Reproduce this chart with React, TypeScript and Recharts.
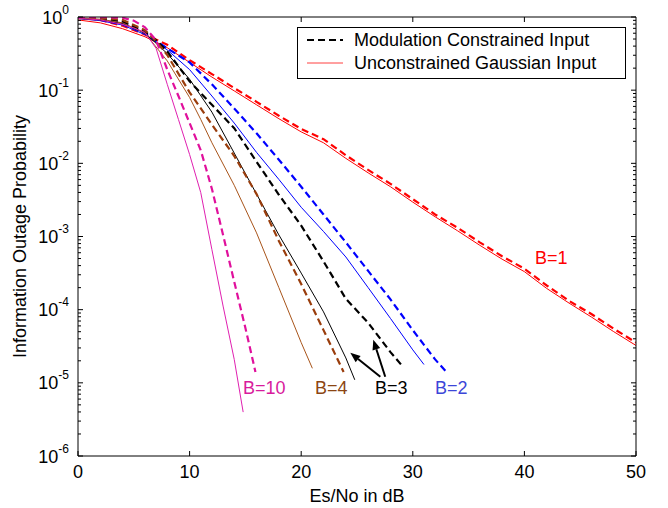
import React from 'react';
import { LineChart, Line, XAxis, YAxis, Legend, ReferenceLine, ReferenceDot } from 'recharts';

// ---- data (Es/No in dB, outage probability) ----
const snrB1 = [0, 2, 4, 6, 8, 10, 12, 14, 16, 18, 20, 22, 24, 26, 28, 30, 32, 34, 36, 38, 40, 42, 44, 46, 48, 50];
const b1Mod = [0.977, 0.912, 0.759, 0.575, 0.417, 0.257, 0.166, 0.107, 0.0692, 0.0447, 0.0295, 0.0214, 0.0129, 8.13e-3, 5.25e-3, 3.24e-3, 2.0e-3, 1.32e-3, 8.32e-4, 5.37e-4, 3.63e-4, 2.14e-4, 1.32e-4, 8.71e-5, 5.5e-5, 3.55e-5];
const b1Gauss = [0.912, 0.832, 0.692, 0.537, 0.38, 0.24, 0.151, 0.0977, 0.0631, 0.0407, 0.0269, 0.0191, 0.0117, 7.41e-3, 4.79e-3, 2.95e-3, 1.86e-3, 1.2e-3, 7.59e-4, 4.9e-4, 3.31e-4, 1.95e-4, 1.23e-4, 7.94e-5, 5.01e-5, 3.24e-5];

const snrB2Mod = [0, 2, 4, 6, 7, 8, 10, 12, 14, 16, 18, 20, 22, 24, 26, 28, 30, 32, 33];
const b2Mod = [0.977, 0.933, 0.832, 0.603, 0.468, 0.372, 0.24, 0.12, 0.0562, 0.0257, 0.0112, 4.79e-3, 2.0e-3, 8.32e-4, 3.39e-4, 1.38e-4, 5.25e-5, 2.09e-5, 1.41e-5];
const snrB2Gauss = [0, 2, 4, 6, 8, 10, 12, 14, 16, 18, 20, 22, 24, 26, 28, 30, 31];
const b2Gauss = [0.955, 0.891, 0.776, 0.575, 0.355, 0.191, 0.0832, 0.0355, 0.0141, 6.03e-3, 2.51e-3, 1.17e-3, 5.25e-4, 2.0e-4, 7.59e-5, 2.82e-5, 1.78e-5];

const snrB3Mod = [0, 2, 4, 6, 7, 8, 10, 12, 14, 16, 18, 20, 22, 24, 26, 28, 29];
const b3Mod = [0.977, 0.955, 0.871, 0.631, 0.479, 0.339, 0.132, 0.0631, 0.0302, 0.0105, 3.72e-3, 1.41e-3, 4.57e-4, 1.41e-4, 6.61e-5, 2.63e-5, 1.74e-5];
const snrB3Gauss = [0, 2, 4, 6, 8, 10, 12, 14, 16, 18, 20, 22, 24, 24.8];
const b3Gauss = [0.955, 0.912, 0.813, 0.603, 0.316, 0.141, 0.0501, 0.0138, 3.8e-3, 1.05e-3, 3.16e-4, 9.33e-5, 2.19e-5, 1.1e-5];

const snrB4Mod = [0, 2, 4, 6, 7, 8, 10, 12, 14, 16, 18, 20, 22, 23.8];
const b4Mod = [0.995, 0.977, 0.912, 0.661, 0.468, 0.302, 0.0933, 0.0339, 0.0126, 3.8e-3, 8.71e-4, 2.24e-4, 5.25e-5, 1.41e-5];
const snrB4Gauss = [0, 2, 4, 6, 8, 10, 11, 12, 14, 16, 18, 20, 21];
const b4Gauss = [0.977, 0.933, 0.832, 0.603, 0.251, 0.0794, 0.0398, 0.0191, 5.01e-3, 1.12e-3, 2.0e-4, 3.55e-5, 1.58e-5];

const snrB10Mod = [0, 2, 4, 5, 6, 7, 8, 9, 10, 11, 12, 13, 14, 15, 15.9];
const b10Mod = [0.998, 0.998, 0.977, 0.891, 0.724, 0.479, 0.191, 0.0832, 0.0355, 0.0151, 4.47e-3, 1.05e-3, 2.4e-4, 5.62e-5, 1.41e-5];
const snrB10Gauss = [0, 2, 4, 5, 6, 7, 8, 9, 10, 11, 12, 13, 14, 14.8];
const b10Gauss = [0.955, 0.912, 0.794, 0.708, 0.617, 0.372, 0.12, 0.0398, 0.0132, 3.98e-3, 6.61e-4, 1.12e-4, 2.09e-5, 3.98e-6];

// ---- axis ticks ----
const xTicks = [0, 10, 20, 30, 40, 50];
const xTopTicks = [10, 20, 30, 40];
const yMajorTicks = [1e-6, 1e-5, 1e-4, 1e-3, 1e-2, 1e-1, 1];
const yMinorFactors = [2, 3, 4, 5, 6, 7, 8, 9];

// ---- annotations ----
const curveLabels = [
  { text: 'B=10', x: 16.7, y: 8.7e-6, color: '#d81b9c' },
  { text: 'B=4', x: 22.7, y: 8.7e-6, color: '#8b4513' },
  { text: 'B=3', x: 28.07, y: 8.7e-6, color: '#000000' },
  { text: 'B=2', x: 33.45, y: 8.7e-6, color: '#3c46d8' },
  { text: 'B=1', x: 42.4, y: 5.2e-4, color: '#ff0000' },
];
const arrows = [
  { from: { x: 27.09, y: 1.21e-5 }, to: { x: 24.4, y: 2.57e-5 } },
  { from: { x: 27.53, y: 1.21e-5 }, to: { x: 26.46, y: 3.88e-5 } },
];

const legendItems = [
  { label: 'Modulation Constrained Input', color: '#000000', dash: '7 4', width: 2 },
  { label: 'Unconstrained Gaussian Input', color: '#ff4040', dash: undefined, width: 1 },
];

const FONT = 'Liberation Sans, Arial, Helvetica, sans-serif';

const zip = (xs: number[], ys: number[]) => xs.map((x, i) => ({ x, y: ys[i] }));

const series = [
  { key: 'b1m', data: zip(snrB1, b1Mod), color: '#ff0000', dashed: true },
  { key: 'b1g', data: zip(snrB1, b1Gauss), color: '#ff0000', dashed: false },
  { key: 'b2m', data: zip(snrB2Mod, b2Mod), color: '#0000ff', dashed: true },
  { key: 'b2g', data: zip(snrB2Gauss, b2Gauss), color: '#0000ff', dashed: false },
  { key: 'b3m', data: zip(snrB3Mod, b3Mod), color: '#000000', dashed: true },
  { key: 'b3g', data: zip(snrB3Gauss, b3Gauss), color: '#000000', dashed: false },
  { key: 'b4m', data: zip(snrB4Mod, b4Mod), color: '#9a3d0c', dashed: true },
  { key: 'b4g', data: zip(snrB4Gauss, b4Gauss), color: '#a8541a', dashed: false },
  { key: 'b10m', data: zip(snrB10Mod, b10Mod), color: '#e0109c', dashed: true },
  { key: 'b10g', data: zip(snrB10Gauss, b10Gauss), color: '#e020b0', dashed: false },
];

const yTicks: number[] = [];
yMajorTicks.forEach((m) => {
  yTicks.push(m);
  if (m < 1) yMinorFactors.forEach((f) => yTicks.push(m * f));
});

const isMajor = (v: number) => {
  const l = Math.log10(v);
  return Math.abs(l - Math.round(l)) < 1e-6;
};

const LeftTick = (props: any) => {
  const { x, y, payload } = props;
  const v = payload.value;
  const major = isMajor(v);
  const exp = Math.round(Math.log10(v));
  return (
    <g>
      <line x1={x} y1={y} x2={x + (major ? 5 : 3)} y2={y} stroke="#000" strokeWidth={1} />
      {major && (
        <text x={x - 9} y={y + 6.5} textAnchor="end" fontSize={18} fontFamily={FONT} fill="#000">
          10
          <tspan dy={-10} fontSize={12}>{String(exp)}</tspan>
        </text>
      )}
    </g>
  );
};

const RightTick = (props: any) => {
  const { x, y, payload } = props;
  const major = isMajor(payload.value);
  return <line x1={x} y1={y} x2={x - (major ? 5 : 3)} y2={y} stroke="#000" strokeWidth={1} />;
};

const BottomTick = (props: any) => {
  const { x, y, payload } = props;
  return (
    <g>
      <line x1={x} y1={y} x2={x} y2={y - 5} stroke="#000" strokeWidth={1} />
      <text x={x} y={y + 22} textAnchor="middle" fontSize={18} fontFamily={FONT} fill="#000">
        {payload.value}
      </text>
    </g>
  );
};

const TopTick = (props: any) => {
  const { x, y } = props;
  return <line x1={x} y1={y} x2={x} y2={y + 5} stroke="#000" strokeWidth={1} />;
};

const YTitle = (props: any) => {
  const vb = props.viewBox || { x: 0, y: 17, width: 78, height: 439 };
  const cx = vb.x + 20;
  const cy = vb.y + vb.height / 2;
  return (
    <text x={cx} y={cy} transform={`rotate(-90 ${cx} ${cy})`} textAnchor="middle" dominantBaseline="central" fontSize={18} fontFamily={FONT} fill="#000">
      Information Outage Probability
    </text>
  );
};

const XTitle = (props: any) => {
  const vb = props.viewBox || { x: 78, y: 456, width: 558, height: 52 };
  return (
    <text x={vb.x + vb.width / 2} y={vb.y + 46} textAnchor="middle" fontSize={18} fontFamily={FONT} fill="#000">
      Es/No in dB
    </text>
  );
};

const ArrowShape = (props: any) => {
  const { x1, y1, x2, y2 } = props;
  if ([x1, y1, x2, y2].some((v) => v == null || isNaN(v))) return null;
  const dx = x2 - x1;
  const dy = y2 - y1;
  const len = Math.sqrt(dx * dx + dy * dy) || 1;
  const ux = dx / len;
  const uy = dy / len;
  const hl = 10;
  const hw = 4;
  const bx = x2 - ux * hl;
  const by = y2 - uy * hl;
  const pts = `${x2},${y2} ${bx - uy * hw},${by + ux * hw} ${bx + uy * hw},${by - ux * hw}`;
  return (
    <g>
      <line x1={x1} y1={y1} x2={bx} y2={by} stroke="#000" strokeWidth={2} />
      <polygon points={pts} fill="#000" />
    </g>
  );
};

const LegendBox = () => (
  <svg width={329} height={52} style={{ display: 'block' }}>
    <rect x={0.5} y={0.5} width={328} height={51} fill="#fff" stroke="#000" strokeWidth={1} />
    {legendItems.map((it, i) => (
      <g key={it.label}>
        <line x1={10} x2={46} y1={13 + i * 23} y2={13 + i * 23} stroke={it.color} strokeWidth={it.width} strokeDasharray={it.dash} />
        <text x={57} y={19 + i * 23} fontSize={18} fontFamily={FONT} fill="#000">
          {it.label}
        </text>
      </g>
    ))}
  </svg>
);

export default function App() {
  return (
    <div style={{ position: 'absolute', left: 0, top: 0, background: '#fff' }}>
      <LineChart width={668} height={508} margin={{ top: 0, right: 0, bottom: 0, left: 0 }}>
        <XAxis
          dataKey="x"
          type="number"
          domain={[0, 50]}
          ticks={xTicks}
          interval={0}
          allowDataOverflow
          height={52}
          tickSize={0}
          tickMargin={0}
          tick={BottomTick}
          axisLine={{ stroke: '#000', strokeWidth: 1 }}
          label={XTitle}
        />
        <XAxis
          xAxisId="top"
          orientation="top"
          dataKey="x"
          type="number"
          domain={[0, 50]}
          ticks={xTopTicks}
          interval={0}
          allowDataOverflow
          height={17}
          tickSize={0}
          tickMargin={0}
          tick={TopTick}
          axisLine={{ stroke: '#000', strokeWidth: 1 }}
        />
        <YAxis
          type="number"
          scale="log"
          domain={[1e-6, 1]}
          ticks={yTicks}
          interval={0}
          allowDataOverflow
          width={78}
          tickSize={0}
          tickMargin={0}
          tick={LeftTick}
          axisLine={{ stroke: '#000', strokeWidth: 1 }}
          label={YTitle}
        />
        <YAxis
          yAxisId="right"
          orientation="right"
          type="number"
          scale="log"
          domain={[1e-6, 1]}
          ticks={yTicks}
          interval={0}
          allowDataOverflow
          width={32}
          tickSize={0}
          tickMargin={0}
          tick={RightTick}
          axisLine={{ stroke: '#000', strokeWidth: 1 }}
        />
        {series.map((s) => (
          <Line
            key={s.key}
            data={s.data}
            dataKey="y"
            type="linear"
            stroke={s.color}
            strokeWidth={s.dashed ? 2.2 : 1}
            strokeDasharray={s.dashed ? '7 4' : undefined}
            dot={false}
            activeDot={false}
            isAnimationActive={false}
            legendType="none"
          />
        ))}
        {arrows.map((a, i) => (
          <ReferenceLine key={`arrow-${i}`} segment={[a.from, a.to]} shape={ArrowShape} ifOverflow="visible" />
        ))}
        {curveLabels.map((c) => (
          <ReferenceDot
            key={c.text}
            x={c.x}
            y={c.y}
            r={0}
            ifOverflow="visible"
            shape={(p: any) => (
              <text x={p.cx} y={p.cy + 6.5} textAnchor="middle" fontSize={18} fontFamily={FONT} fill={c.color}>
                {c.text}
              </text>
            )}
          />
        ))}
        <Legend
          layout="vertical"
          align="center"
          verticalAlign="middle"
          content={LegendBox}
          wrapperStyle={{ left: 297, top: 27, width: 329, height: 52, margin: 0, padding: 0 }}
        />
      </LineChart>
    </div>
  );
}
